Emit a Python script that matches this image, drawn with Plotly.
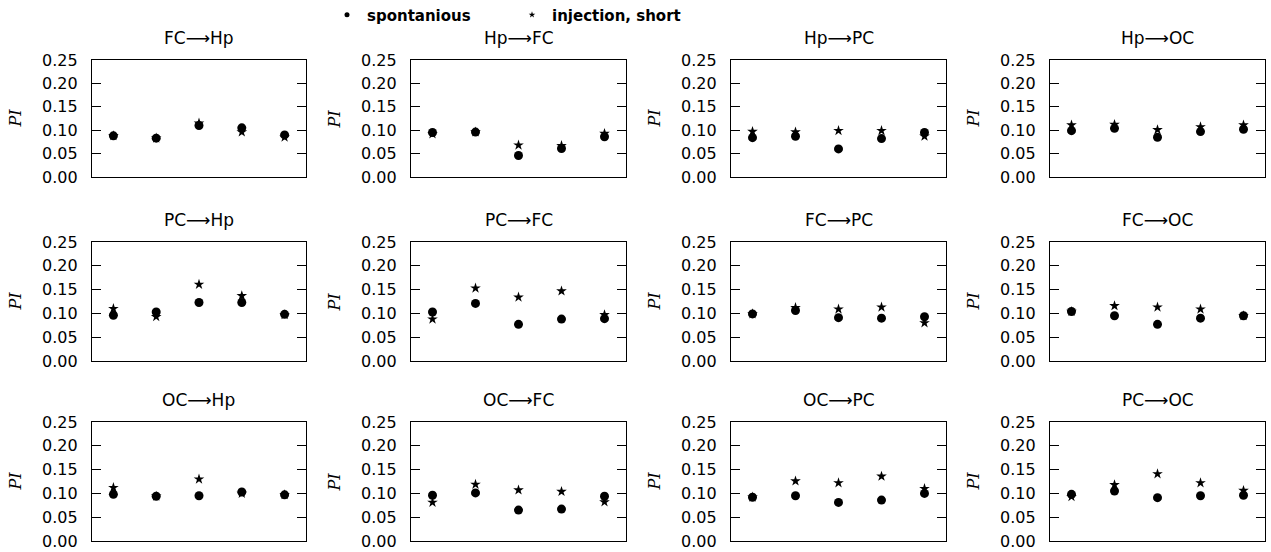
import plotly.graph_objects as go

W, H = 1271, 552

titles = ["FC⟶Hp", "Hp⟶FC", "Hp⟶PC", "Hp⟶OC",
          "PC⟶Hp", "PC⟶FC", "FC⟶PC", "FC⟶OC",
          "OC⟶Hp", "OC⟶FC", "OC⟶PC", "PC⟶OC"]
x_positions = [0, 1, 2, 3, 4]
y_ticks = [0.00, 0.05, 0.10, 0.15, 0.20, 0.25]

spont_FC_Hp = [0.088, 0.083, 0.110, 0.105, 0.090]
inj_FC_Hp = [0.088, 0.083, 0.115, 0.096, 0.085]
spont_Hp_FC = [0.095, 0.096, 0.046, 0.061, 0.086]
inj_Hp_FC = [0.092, 0.096, 0.068, 0.067, 0.093]
spont_Hp_PC = [0.084, 0.087, 0.060, 0.082, 0.095]
inj_Hp_PC = [0.097, 0.096, 0.099, 0.099, 0.087]
spont_Hp_OC = [0.099, 0.104, 0.085, 0.097, 0.102]
inj_Hp_OC = [0.111, 0.112, 0.101, 0.107, 0.111]
spont_PC_Hp = [0.096, 0.103, 0.123, 0.123, 0.098]
inj_PC_Hp = [0.110, 0.093, 0.161, 0.137, 0.097]
spont_PC_FC = [0.103, 0.121, 0.077, 0.088, 0.089]
inj_PC_FC = [0.088, 0.153, 0.134, 0.147, 0.097]
spont_FC_PC = [0.099, 0.106, 0.091, 0.090, 0.093]
inj_FC_PC = [0.099, 0.112, 0.109, 0.113, 0.080]
spont_FC_OC = [0.104, 0.095, 0.077, 0.090, 0.095]
inj_FC_OC = [0.104, 0.116, 0.113, 0.109, 0.095]
spont_OC_Hp = [0.098, 0.094, 0.095, 0.103, 0.097]
inj_OC_Hp = [0.112, 0.094, 0.130, 0.100, 0.097]
spont_OC_FC = [0.096, 0.101, 0.065, 0.067, 0.094]
inj_OC_FC = [0.081, 0.119, 0.107, 0.104, 0.082]
spont_OC_PC = [0.092, 0.095, 0.081, 0.086, 0.100]
inj_OC_PC = [0.092, 0.126, 0.122, 0.136, 0.110]
spont_PC_OC = [0.098, 0.105, 0.091, 0.095, 0.096]
inj_PC_OC = [0.093, 0.118, 0.141, 0.122, 0.106]

spont_series = [spont_FC_Hp, spont_Hp_FC, spont_Hp_PC, spont_Hp_OC,
                spont_PC_Hp, spont_PC_FC, spont_FC_PC, spont_FC_OC,
                spont_OC_Hp, spont_OC_FC, spont_OC_PC, spont_PC_OC]
inj_series = [inj_FC_Hp, inj_Hp_FC, inj_Hp_PC, inj_Hp_OC,
              inj_PC_Hp, inj_PC_FC, inj_FC_PC, inj_FC_OC,
              inj_OC_Hp, inj_OC_FC, inj_OC_PC, inj_PC_OC]

# layout geometry (pixels)
col_px = [(92, 306), (411, 626), (731, 946), (1050, 1265)]
row_px = [(60, 177), (242, 361), (422, 541)]

FONT = "DejaVu Sans"
fig = go.Figure()
layout = dict(
    width=W, height=H,
    margin=dict(l=0, r=0, t=0, b=0, autoexpand=False),
    paper_bgcolor="white", plot_bgcolor="white",
    showlegend=True,
    legend=dict(orientation="h", x=327 / W, y=1 - 15 / H, xanchor="left", yanchor="middle",
                font=dict(family=FONT, size=15, color="black", weight="bold"),
                entrywidth=140, entrywidthmode="pixels",
                itemwidth=30, bgcolor="rgba(0,0,0,0)", borderwidth=0),
)
annotations = []

for i in range(12):
    r, c = divmod(i, 4)
    n = i + 1
    xa = "x" if n == 1 else f"x{n}"
    ya = "y" if n == 1 else f"y{n}"
    x0, x1 = col_px[c]
    y0, y1 = row_px[r]
    layout["xaxis" if n == 1 else f"xaxis{n}"] = dict(
        domain=[x0 / W, x1 / W], range=[-0.5, 4.5], anchor=ya,
        showline=True, mirror=True, linecolor="black", linewidth=1.2,
        ticks="", showticklabels=False, showgrid=False, zeroline=False, fixedrange=True)
    layout["yaxis" if n == 1 else f"yaxis{n}"] = dict(
        domain=[1 - y1 / H, 1 - y0 / H], range=[0, 0.25], anchor=xa,
        showline=True, mirror="ticks", linecolor="black", linewidth=1.2,
        ticks="inside", ticklen=9, tickwidth=1.2, tickcolor="black",
        tickvals=y_ticks, ticktext=[f"{v:.2f}" for v in y_ticks],
        tickfont=dict(family=FONT, size=16, color="black"),
        ticklabelstandoff=10, ticklabeloverflow="allow",
        showgrid=False, zeroline=False, fixedrange=True)
    fig.add_trace(go.Scatter(
        x=x_positions, y=inj_series[i], mode="markers", xaxis=xa, yaxis=ya,
        marker=dict(symbol="star", size=8, color="black", line=dict(width=0)),
        showlegend=False, name="injection, short"))
    fig.add_trace(go.Scatter(
        x=x_positions, y=spont_series[i], mode="markers", xaxis=xa, yaxis=ya,
        marker=dict(symbol="circle", size=9, color="black", line=dict(width=0)),
        showlegend=False, name="spontanious"))
    annotations.append(dict(
        text=titles[i], xref="paper", yref="paper", x=(x0 + x1) / 2 / W,
        y=1 - (y0 - 22) / H, xanchor="center", yanchor="middle", showarrow=False,
        font=dict(family=FONT, size=17, color="black")))
    annotations.append(dict(
        text="<i>PI</i>", xref="paper", yref="paper", x=(x0 - 77) / W,
        y=1 - (y0 + y1) / 2 / H, xanchor="center", yanchor="middle", showarrow=False,
        textangle=-90, font=dict(family="DejaVu Serif", size=16, color="black")))

# legend-only entries
fig.add_trace(go.Scatter(x=[None], y=[None], mode="markers", name="spontanious",
                         marker=dict(symbol="circle", size=5, color="black")))
fig.add_trace(go.Scatter(x=[None], y=[None], mode="markers", name="injection, short",
                         marker=dict(symbol="star", size=5, color="black")))

layout["annotations"] = annotations
fig.update_layout(**layout)
fig.write_html("out.html", config={"displayModeBar": False},
               post_script="document.body.style.margin='0';document.body.style.overflow='hidden';")
